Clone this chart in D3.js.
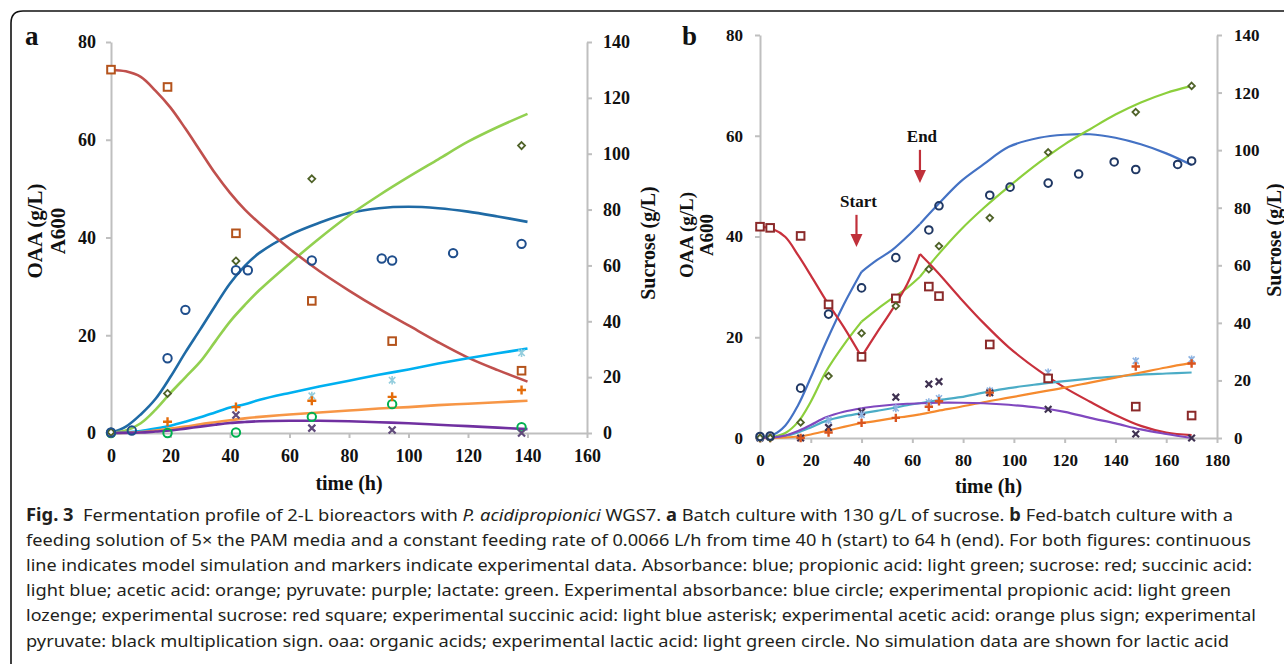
<!DOCTYPE html>
<html>
<head>
<meta charset="utf-8">
<script src="https://cdn.jsdelivr.net/npm/d3@7/dist/d3.min.js"></script>
<style>
	body { margin: 0; background: #fff; }
	svg { display: block; }
	.axis path, .axis line { stroke: #bfbfbf; stroke-width: 2; }
	.axis text { font-family: "Liberation Serif", "Times New Roman", serif; font-weight: bold; fill: #111; }
	.title { font-family: "Liberation Serif", "Times New Roman", serif; font-weight: bold; fill: #111; }
	.caption { font-family: "Noto Sans", "Open Sans", sans-serif; fill: #231f20; font-size: 17px; }
</style>
</head>
<body>
<svg id="chart" width="1284" height="664"></svg>
<script>
// ---- panel a : batch culture ----
const tModelA = [0, 5, 10, 15, 20, 25, 30, 35, 40, 45, 50, 60, 70, 80, 90, 100, 110, 120, 130, 140];
const absorbA = [0, 1.3, 3.8, 7.0, 11.5, 16.5, 21.2, 26, 30.6, 34.2, 36.9, 40.5, 43.0, 45.0, 46.0, 46.3, 46.0, 45.3, 44.3, 43.2];
const propA = [0, 0.5, 2, 4.8, 8.2, 11.4, 14.6, 18.7, 22.8, 26.2, 29.3, 34.7, 39.8, 44.5, 48.6, 52.4, 56, 59.6, 62.6, 65.3];
const sucroseA = [130, 129.5, 127.5, 122.5, 116.5, 109, 101, 93, 86, 80, 75, 66, 58, 51, 44.5, 38.5, 32.5, 27, 22.5, 18.4];
const succA = [0, 0.1, 0.4, 0.9, 1.5, 2.3, 3.2, 4.2, 5.2, 5.9, 6.8, 8.2, 9.5, 10.7, 11.9, 13.0, 14.2, 15.3, 16.3, 17.3];
const aceticA = [0, 0.05, 0.2, 0.5, 0.9, 1.3, 1.8, 2.2, 2.6, 3.0, 3.3, 3.8, 4.2, 4.6, 5.0, 5.3, 5.7, 6.0, 6.3, 6.6];
const pyruvA = [0, 0.02, 0.1, 0.3, 0.5, 0.9, 1.3, 1.7, 2.05, 2.25, 2.4, 2.5, 2.5, 2.4, 2.2, 2.0, 1.7, 1.4, 1.1, 0.8];

const tAbsorbExpA = [0, 7, 19, 25, 42, 46, 67.5, 91, 94.5, 115, 138];
const absorbExpA = [0.1, 0.5, 15.3, 25.2, 33.3, 33.3, 35.3, 35.7, 35.3, 36.8, 38.7];
const tPropExpA = [0, 19, 42, 67.5, 138];
const propExpA = [0.2, 8.1, 35.2, 52.0, 58.8];
const tSucroseExpA = [0, 19, 42, 67.5, 94.5, 138];
const sucroseExpA = [130.1, 123.9, 71.5, 47.3, 32.9, 22.3];
const tSuccExpA = [0, 67.5, 94.5, 138];
const succExpA = [0, 7.6, 10.8, 16.4];
const tAceticExpA = [0, 19, 42, 67.5, 94.5, 138];
const aceticExpA = [0, 2.3, 5.3, 6.6, 7.4, 8.8];
const tPyruvExpA = [0, 42, 67.5, 94.5, 138];
const pyruvExpA = [0, 3.7, 1.0, 0.6, 0];
const tLacticExpA = [0, 19, 42, 67.5, 94.5, 138];
const lacticExpA = [0, 0, 0.1, 3.3, 5.9, 1.2];

// ---- panel b : fed-batch culture ----
const tModelB = [0, 5, 10, 15, 20, 26, 33, 40, 46, 52, 58, 63, 70, 79, 88, 98, 110, 120, 130, 140, 150, 160, 170];
const feedBreaks = [40, 63];
const absorbB = [0.2, 0.6, 2.5, 6.5, 12, 19, 26.5, 33, 35.3, 37.3, 40, 42.5, 46.3, 50.9, 54.3, 57.8, 59.6, 60.2, 60.3, 59.6, 58.3, 56.5, 54.2];
const propB = [0, 0.2, 1.0, 3.2, 7.2, 13.2, 18.5, 23.1, 25.5, 27.7, 29.8, 32, 36.3, 41.3, 45.6, 49.9, 54.7, 58.3, 61.3, 64.2, 66.6, 68.5, 69.9];
const sucroseB = [73.4, 72.6, 69.8, 63.5, 56.5, 47.8, 38.5, 28.2, 36.5, 44.5, 53.5, 63.9, 57.5, 48.5, 40, 31.5, 23.3, 17.5, 12.6, 8, 4.2, 1.9, 1.0];
const succB = [0, 0.1, 0.4, 1.1, 2.1, 3.4, 4.3, 4.9, 5.4, 5.9, 6.5, 6.9, 7.5, 8.1, 9.0, 9.9, 10.7, 11.3, 11.8, 12.2, 12.6, 12.8, 13.0];
const aceticB = [0, 0.02, 0.1, 0.3, 0.7, 1.4, 2.2, 3.0, 3.4, 3.9, 4.3, 4.7, 5.4, 6.2, 7.1, 8.0, 9.1, 10.0, 11.0, 12.0, 13.0, 14.0, 14.9];
const pyruvB = [0, 0.1, 0.5, 1.4, 2.6, 4.1, 5.2, 5.9, 6.3, 6.6, 6.8, 6.9, 7.0, 7.0, 6.9, 6.6, 6.0, 5.2, 4.0, 2.9, 1.7, 0.8, 0];

const tExpB = [0, 4, 16, 27, 40, 53.5, 66.5, 70.5, 90.5, 113.5, 148, 170];
const tAbsorbExpB = [0, 4, 16, 27, 40, 53.5, 66.5, 70.5, 90.5, 98.5, 113.5, 125.5, 139.5, 148, 164.5, 170];
const absorbExpB = [0.3, 0.4, 9.9, 24.6, 29.8, 35.8, 41.3, 46.1, 48.2, 49.8, 50.6, 52.4, 54.8, 53.3, 54.3, 55.0];
const propExpB = [0, 0, 3.1, 12.3, 20.8, 26.2, 33.5, 38.1, 43.7, 56.7, 64.7, 69.9];
const sucroseExpB = [73.4, 73.0, 70.2, 46.4, 28.2, 48.5, 52.6, 49.3, 32.5, 20.7, 10.9, 7.8];
const tSuccExpB = [0, 4, 27, 40, 53.5, 66.5, 70.5, 90.5, 113.5, 148, 170];
const succExpB = [0, 0.2, 3.5, 4.6, 5.9, 7.1, 7.9, 9.4, 13.0, 15.3, 15.6];
const aceticExpB = [0, 0, 0, 1.1, 3.0, 4.0, 6.2, 7.3, 9.0, 11.9, 14.2, 14.8];
const pyruvExpB = [0, 0.2, 0, 2.1, 5.2, 8.1, 10.7, 11.2, 9.0, 5.7, 0.8, 0];

const feedLabels = ['Start', 'End'];
const feedArrowT = [38, 63];
const feedArrowTop = [44.3, 57.2];
const feedArrowTip = [37.9, 50.6];

const xTicksA = [0, 20, 40, 60, 80, 100, 120, 140, 160];
const xTicksB = [0, 20, 40, 60, 80, 100, 120, 140, 160, 180];
const yTicks = [0, 20, 40, 60, 80];
const yRightTicks = [0, 20, 40, 60, 80, 100, 120, 140];

const captionLines = [
	[['Fig. 3', 'b'], ['  Fermentation profile of 2-L bioreactors with ', ''], ['P. acidipropionici', 'i'], [' WGS7. ', ''], ['a', 'b'], [' Batch culture with 130 g/L of sucrose. ', ''], ['b', 'b'], [' Fed-batch culture with a', '']],
	[['feeding solution of 5\u00d7 the PAM media and a constant feeding rate of 0.0066 L/h from time 40 h (start) to 64 h (end). For both figures: continuous', '']],
	[['line indicates model simulation and markers indicate experimental data. Absorbance: blue; propionic acid: light green; sucrose: red; succinic acid:', '']],
	[['light blue; acetic acid: orange; pyruvate: purple; lactate: green. Experimental absorbance: blue circle; experimental propionic acid: light green', '']],
	[['lozenge; experimental sucrose: red square; experimental succinic acid: light blue asterisk; experimental acetic acid: orange plus sign; experimental', '']],
	[['pyruvate: black multiplication sign. oaa: organic acids; experimental lactic acid: light green circle. No simulation data are shown for lactic acid', '']]
];
const captionWidths = [1207, 1225, 1226, 1205, 1230, 1203];

const svg = d3.select('#chart');

// frame round the figure
svg.append('path')
	.attr('d', 'M11,664 V23 Q11,11 23,11 H1284')
	.attr('fill', 'none')
	.attr('stroke', '#111')
	.attr('stroke-width', 1.6);

function zip(ts, vs) {
	return ts.map((t, i) => ({ t: t, v: vs[i] }));
}

// draw one experimental marker
function marker(g, type, x, y, color, s) {
	if (type === 'circle') {
		g.append('circle').attr('cx', x).attr('cy', y).attr('r', s)
			.attr('fill', 'none').attr('stroke', color).attr('stroke-width', 2);
	} else if (type === 'square') {
		g.append('rect').attr('x', x - s).attr('y', y - s).attr('width', 2 * s).attr('height', 2 * s)
			.attr('fill', '#fff').attr('stroke', color).attr('stroke-width', 2);
	} else if (type === 'diamond') {
		g.append('path').attr('d', `M${x},${y - s}L${x + s},${y}L${x},${y + s}L${x - s},${y}Z`)
			.attr('fill', '#fff').attr('stroke', color).attr('stroke-width', 1.8);
	} else if (type === 'plus') {
		g.append('path').attr('d', `M${x - s},${y}H${x + s}M${x},${y - s}V${y + s}`)
			.attr('stroke', color).attr('stroke-width', 2.4);
	} else if (type === 'cross') {
		g.append('path').attr('d', `M${x - s},${y - s}L${x + s},${y + s}M${x + s},${y - s}L${x - s},${y + s}`)
			.attr('stroke', color).attr('stroke-width', 2.2);
	} else if (type === 'star') {
		g.append('path').attr('d', `M${x - s},${y - s}L${x + s},${y + s}M${x + s},${y - s}L${x - s},${y + s}M${x},${y - s - 1}V${y + s + 1}`)
			.attr('stroke', color).attr('stroke-width', 1.6);
	}
}

function drawPanel(p) {
	const g = svg.append('g');
	const x = d3.scaleLinear().domain(p.xDomain).range(p.xRange);
	const y = d3.scaleLinear().domain([0, 80]).range(p.yRange);
	const yR = d3.scaleLinear().domain([0, 140]).range(p.yRange);

	g.append('g').attr('class', 'axis')
		.attr('transform', `translate(0,${p.yRange[0]})`)
		.call(d3.axisBottom(x).tickValues(p.xTicks).tickSize(5).tickSizeOuter(0).tickPadding(11))
		.selectAll('text').style('font-size', p.tickFont + 'px');
	g.append('g').attr('class', 'axis')
		.attr('transform', `translate(${p.xRange[0]},0)`)
		.call(d3.axisLeft(y).tickValues(yTicks).tickSize(5).tickSizeOuter(0).tickPadding(p.padL))
		.selectAll('text').style('font-size', p.tickFont + 'px');
	g.append('g').attr('class', 'axis')
		.attr('transform', `translate(${p.xRange[1]},0)`)
		.call(d3.axisRight(yR).tickValues(yRightTicks).tickSize(5).tickSizeOuter(0).tickPadding(p.padR))
		.selectAll('text').style('font-size', p.tickFont + 'px');

	// model lines, split at the feeding start and end if any
	const curve = d3.curveCatmullRom.alpha(0.5);
	p.lines.forEach(function (s) {
		const sc = s.right ? yR : y;
		const line = d3.line().x(d => x(d.t)).y(d => sc(d.v)).curve(curve);
		const pts = zip(p.tModel, s.v);
		let pieces = [pts];
		if (p.breaks) {
			pieces = [];
			let edges = [p.xDomain[0]].concat(p.breaks, [p.xDomain[1]]);
			for (let k = 0; k < edges.length - 1; k++) {
				pieces.push(pts.filter(d => d.t >= edges[k] && d.t <= edges[k + 1]));
			}
		}
		pieces.forEach(function (piece) {
			g.append('path').datum(piece)
				.attr('d', line)
				.attr('fill', 'none')
				.attr('stroke', s.color)
				.attr('stroke-width', p.lineWidth)
				.attr('stroke-linejoin', 'round');
		});
	});

	// experimental markers
	p.points.forEach(function (s) {
		const sc = s.right ? yR : y;
		zip(s.t, s.v).forEach(function (d) {
			marker(g, s.type, x(d.t), sc(d.v), s.color, s.size);
		});
	});

	// axis titles
	g.append('text').attr('class', 'title')
		.attr('x', (p.xRange[0] + p.xRange[1]) / 2).attr('y', p.xTitleY)
		.attr('text-anchor', 'middle').style('font-size', '20px')
		.text('time (h)');
	p.leftTitles.forEach(function (t) {
		g.append('text').attr('class', 'title')
			.attr('transform', `translate(${t[1]},${p.leftTitleY}) rotate(-90)`)
			.attr('text-anchor', 'middle').style('font-size', p.leftTitleFont + 'px')
			.text(t[0]);
	});
	g.append('text').attr('class', 'title')
		.attr('transform', `translate(${p.rightTitleX},${p.rightTitleY}) rotate(-90)`)
		.attr('text-anchor', 'middle').style('font-size', '20px')
		.text('Sucrose (g/L)');
	g.append('text').attr('class', 'title')
		.attr('x', p.letterX).attr('y', 45)
		.style('font-size', '27px')
		.text(p.letter);

	return { g: g, x: x, y: y };
}

drawPanel({
	letter: 'a', letterX: 25,
	xDomain: [0, 160], xRange: [111, 587], yRange: [433, 42],
	xTicks: xTicksA, tickFont: 18, padL: 10, padR: 11,
	lineWidth: 2.6,
	tModel: tModelA,
	lines: [
		{ v: absorbA, color: '#1f6aa5' },
		{ v: propA, color: '#92d050' },
		{ v: sucroseA, color: '#c0504d', right: true },
		{ v: succA, color: '#00b0f0' },
		{ v: aceticA, color: '#f79646' },
		{ v: pyruvA, color: '#7030a0' }
	],
	points: [
		{ t: tLacticExpA, v: lacticExpA, type: 'circle', color: '#00b050', size: 4.2 },
		{ t: tPyruvExpA, v: pyruvExpA, type: 'cross', color: '#604a7b', size: 3.5 },
		{ t: tSuccExpA, v: succExpA, type: 'star', color: '#93cddd', size: 3.2 },
		{ t: tAceticExpA, v: aceticExpA, type: 'plus', color: '#e46c0a', size: 4.5 },
		{ t: tSucroseExpA, v: sucroseExpA, type: 'square', color: '#b4531c', size: 3.8, right: true },
		{ t: tPropExpA, v: propExpA, type: 'diamond', color: '#4f6228', size: 3.5 },
		{ t: tAbsorbExpA, v: absorbExpA, type: 'circle', color: '#1f4e8c', size: 4.2 }
	],
	xTitleY: 490,
	leftTitles: [['OAA (g/L)', 42], ['A600', 65]], leftTitleY: 231, leftTitleFont: 21,
	rightTitleX: 655, rightTitleY: 243
});

const panelB = drawPanel({
	letter: 'b', letterX: 682,
	xDomain: [0, 180], xRange: [760, 1217], yRange: [438, 35],
	xTicks: xTicksB, tickFont: 17, padL: 12, padR: 12,
	lineWidth: 2.2,
	tModel: tModelB, breaks: feedBreaks,
	lines: [
		{ v: absorbB, color: '#4472c4' },
		{ v: propB, color: '#8ccf3c' },
		{ v: sucroseB, color: '#c8303c', right: true },
		{ v: succB, color: '#4bacc6' },
		{ v: aceticB, color: '#f58a2e' },
		{ v: pyruvB, color: '#8048bf' }
	],
	points: [
		{ t: tExpB, v: pyruvExpB, type: 'cross', color: '#3f3151', size: 3.3 },
		{ t: tSuccExpB, v: succExpB, type: 'star', color: '#8db3e2', size: 3 },
		{ t: tExpB, v: aceticExpB, type: 'plus', color: '#d9541e', size: 4.2 },
		{ t: tExpB, v: sucroseExpB, type: 'square', color: '#8b2a2a', size: 3.8, right: true },
		{ t: tExpB, v: propExpB, type: 'diamond', color: '#4f6228', size: 3.3 },
		{ t: tAbsorbExpB, v: absorbExpB, type: 'circle', color: '#203864', size: 3.8 }
	],
	xTitleY: 493,
	leftTitles: [['OAA (g/L)', 693], ['A600', 713]], leftTitleY: 235, leftTitleFont: 19,
	rightTitleX: 1281, rightTitleY: 240
});

// feeding start / end arrows in panel b
feedLabels.forEach(function (lab, i) {
	const ax = panelB.x(feedArrowT[i]);
	const y0 = panelB.y(feedArrowTop[i]);
	const y1 = panelB.y(feedArrowTip[i]);
	panelB.g.append('line')
		.attr('x1', ax).attr('x2', ax).attr('y1', y0).attr('y2', y1 - 10)
		.attr('stroke', '#c0303a').attr('stroke-width', 2.2);
	panelB.g.append('path')
		.attr('d', `M${ax - 6},${y1 - 13}L${ax + 6},${y1 - 13}L${ax},${y1}Z`)
		.attr('fill', '#c0303a');
	panelB.g.append('text').attr('class', 'title')
		.attr('x', ax + 2).attr('y', y0 - 8)
		.attr('text-anchor', 'middle').style('font-size', '17px')
		.text(lab);
});

// caption
captionLines.forEach(function (parts, i) {
	const t = svg.append('text').attr('class', 'caption')
		.attr('x', 26).attr('y', 521 + i * 25.1)
		.attr('textLength', captionWidths[i])
		.attr('lengthAdjust', 'spacingAndGlyphs')
		.attr('xml:space', 'preserve');
	parts.forEach(function (part) {
		const ts = t.append('tspan').text(part[0]);
		if (part[1] === 'b') ts.style('font-weight', 'bold');
		if (part[1] === 'i') ts.style('font-style', 'italic');
	});
});
</script>
</body>
</html>
